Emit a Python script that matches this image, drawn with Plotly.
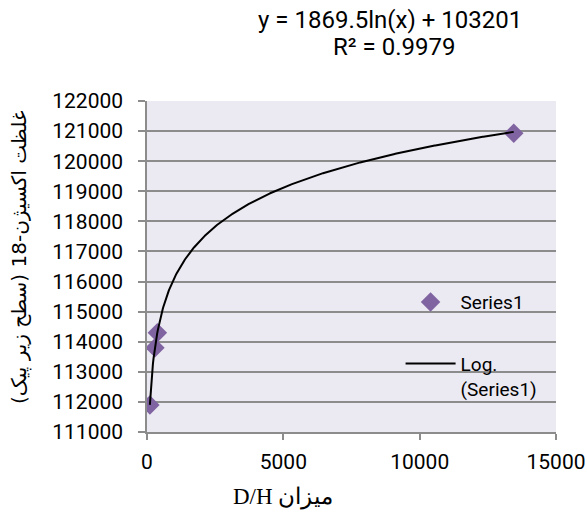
import numpy as np
import plotly.graph_objects as go

# ---- data ----
dh_values = [105, 290, 380, 13450]            # D/H
o18_values = [111900, 113800, 114300, 120930]  # oxygen-18 peak area
trend_a = 1869.5   # coefficient of ln(x)
trend_b = 103201   # intercept
equation_text = "y = 1869.5ln(x) + 103201"
r2_text = "R² = 0.9979"
series_name = "Series1"
trend_name = "Log.<br>(Series1)"
y_title = "غلظت اکسیژن-18 (سطح زیر پیک)"
x_title = "میزان D/H"

FONT = "Roboto, Arial, sans-serif"
GRID = "#8C8C8C"

xs = np.linspace(min(dh_values), max(dh_values), 600)
ys = trend_a * np.log(xs) + trend_b

fig = go.Figure()
fig.add_trace(go.Scatter(
    x=dh_values, y=o18_values, mode="markers", name=series_name,
    marker=dict(symbol="diamond", size=15, color="#8064A2"),
    legendgroup="a",
))
fig.add_trace(go.Scatter(
    x=xs, y=ys, mode="lines", name=trend_name,
    line=dict(color="black", width=2),
    legendgroup="b",
))

fig.update_layout(
    width=587, height=526,
    margin=dict(l=147, r=31, t=101, b=94, autoexpand=False),
    paper_bgcolor="white",
    plot_bgcolor="#EBE9F1",
    font=dict(family=FONT, size=21, color="black"),
    showlegend=True,
    legend=dict(
        x=0.62, y=0.45, xanchor="left", yanchor="top",
        bgcolor="rgba(0,0,0,0)", font=dict(size=19),
        tracegroupgap=34, valign="top", itemwidth=50,
    ),
    xaxis=dict(
        range=[0, 15000], tickvals=[0, 5000, 10000, 15000], tickformat="d",
        showgrid=False, zeroline=False, showline=True, automargin=False,
        linecolor=GRID, linewidth=1.5, ticks="outside", ticklen=6,
        tickcolor=GRID, tickwidth=1.5, ticklabelstandoff=4,
    ),
    yaxis=dict(
        range=[111000, 122000], dtick=1000, tickformat="d",
        showgrid=True, gridcolor=GRID, gridwidth=1.5, automargin=False,
        zeroline=False, showline=True,
        linecolor=GRID, linewidth=1.5, ticks="outside", ticklen=7,
        tickcolor=GRID, tickwidth=1.5, ticklabelstandoff=11,
    ),
    annotations=[
        dict(text=equation_text, xref="paper", yref="paper", x=0.594, y=1.2447,
             showarrow=False, xanchor="center", yanchor="middle", font=dict(size=24)),
        dict(text=r2_text, xref="paper", yref="paper", x=0.604, y=1.163,
             showarrow=False, xanchor="center", yanchor="middle", font=dict(size=24)),
        dict(text="\u202b" + y_title + "\u202c", xref="paper", yref="paper",
             x=-0.3105, y=0.5257, textangle=-90, showarrow=False,
             xanchor="center", yanchor="middle",
             font=dict(size=20, family="DejaVu Sans, sans-serif")),
        dict(text="\u202b" + x_title + "\u202c", xref="paper", yref="paper",
             x=0.3325, y=-0.196, showarrow=False, xanchor="center", yanchor="middle",
             font=dict(size=23, family="Liberation Serif, DejaVu Serif, serif")),
    ],
)

fig.write_html("out.html", config={"displayModeBar": False},
               post_script="document.body.style.margin='0';")
